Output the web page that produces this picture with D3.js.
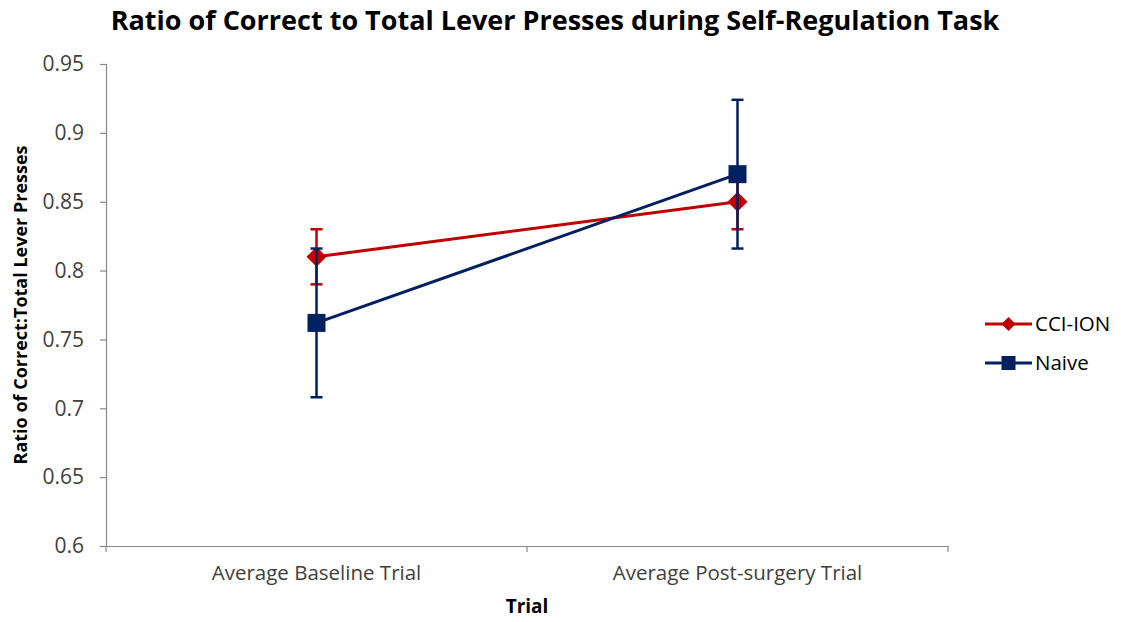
<!DOCTYPE html>
<html><head><meta charset="utf-8">
<script src="https://cdn.jsdelivr.net/npm/d3@7"></script>
<style>body{margin:0;background:#fff;} svg{display:block;}</style>
</head><body><svg id="c" width="1121" height="622"></svg>
<script>
const categories = ["Average Baseline Trial", "Average Post-surgery Trial"];
const seriesNames = ["CCI-ION", "Naive"];
const cciValues = [0.81, 0.85];
const cciErrors = [0.02, 0.02];
const naiveValues = [0.762, 0.87];
const naiveErrors = [0.054, 0.054];
const yTicks = [0.6, 0.65, 0.7, 0.75, 0.8, 0.85, 0.9, 0.95];

(function () {
const series = [
  {name: seriesNames[0], values: cciValues, errors: cciErrors, color: "#C00000", marker: "diamond"},
  {name: seriesNames[1], values: naiveValues, errors: naiveErrors, color: "#002060", marker: "square"}
];

const svg = d3.select("#c");
const pL = 106, pR = 948, pT = 64, pB = 546;
const x = d3.scaleBand().domain(categories).range([pL, pR]);
const y = d3.scaleLinear().domain([0.6, 0.95]).range([pB, pT]);
const font = "'Open Sans', 'Liberation Sans', sans-serif";

// title
svg.append("text").attr("x", 555).attr("y", 30).attr("text-anchor", "middle")
  .attr("font-family", font).attr("font-weight", "bold").attr("font-size", 27)
  .attr("fill", "#000").text("Ratio of Correct to Total Lever Presses during Self-Regulation Task");

// y axis
const yAxis = svg.append("g").attr("transform", `translate(${pL},0)`)
  .call(d3.axisLeft(y).tickValues(yTicks).tickSize(6).tickPadding(16).tickFormat(d => String(+d.toFixed(2))));
yAxis.select(".domain").attr("stroke", "#888").attr("stroke-width", 1.2);
yAxis.selectAll(".tick line").attr("stroke", "#888").attr("stroke-width", 1.2);
yAxis.selectAll(".tick text").attr("font-family", font).attr("font-size", 21).attr("fill", "#404040");

// x axis
const xAxis = svg.append("g").attr("transform", `translate(0,${pB})`)
  .call(d3.axisBottom(x).tickSize(0).tickPadding(19));
xAxis.select(".domain").attr("stroke", "#888").attr("stroke-width", 1.2);
xAxis.selectAll(".tick text").attr("font-family", font).attr("font-size", 20.5).attr("fill", "#404040");
xAxis.selectAll(".bt").data([pL, (pL + pR) / 2, pR]).enter().append("line")
  .attr("x1", d => d).attr("x2", d => d).attr("y1", 0).attr("y2", 6)
  .attr("stroke", "#888").attr("stroke-width", 1.2);

// axis titles
svg.append("text").attr("x", 527).attr("y", 613).attr("text-anchor", "middle")
  .attr("font-family", font).attr("font-weight", "bold").attr("font-size", 19).text("Trial");
svg.append("text").attr("transform", "translate(27,305) rotate(-90)").attr("text-anchor", "middle")
  .attr("font-family", font).attr("font-weight", "bold").attr("font-size", 18).text("Ratio of Correct:Total Lever Presses");

const cx = c => x(c) + x.bandwidth() / 2;

function drawMarker(g, type, color, px, py, s) {
  if (type === "square") {
    g.append("rect").attr("x", px - s / 2).attr("y", py - s / 2).attr("width", s).attr("height", s).attr("fill", color);
  } else {
    g.append("path").attr("d", `M${px},${py - s / 2}L${px + s / 2},${py}L${px},${py + s / 2}L${px - s / 2},${py}Z`).attr("fill", color);
  }
}

const plot = svg.append("g");
series.forEach(s => {
  const g = plot.append("g");
  categories.forEach((c, i) => {
    const px = cx(c);
    const hi = y(s.values[i] + s.errors[i]), lo = y(s.values[i] - s.errors[i]);
    g.append("line").attr("x1", px).attr("x2", px).attr("y1", hi).attr("y2", lo).attr("stroke", s.color).attr("stroke-width", 2.5);
    [hi, lo].forEach(v => g.append("line").attr("x1", px - 6).attr("x2", px + 6).attr("y1", v).attr("y2", v).attr("stroke", s.color).attr("stroke-width", 2.5));
  });
  const line = d3.line().x((d, i) => cx(categories[i])).y(d => y(d));
  g.append("path").attr("d", line(s.values)).attr("fill", "none").attr("stroke", s.color).attr("stroke-width", 3);
  s.values.forEach((v, i) => drawMarker(g, s.marker, s.color, cx(categories[i]), y(v), s.marker === "square" ? 18 : 20));
});

// legend
const legend = svg.append("g");
series.forEach((s, i) => {
  const ly = 324 + i * 39;
  legend.append("line").attr("x1", 985).attr("x2", 1032).attr("y1", ly).attr("y2", ly).attr("stroke", s.color).attr("stroke-width", 3);
  drawMarker(legend, s.marker, s.color, 1008.5, ly, 14);
  legend.append("text").attr("x", 1035).attr("y", ly + 7).attr("font-family", font).attr("font-size", 20.5).attr("fill", "#000").text(s.name);
});
})();
</script></body></html>
